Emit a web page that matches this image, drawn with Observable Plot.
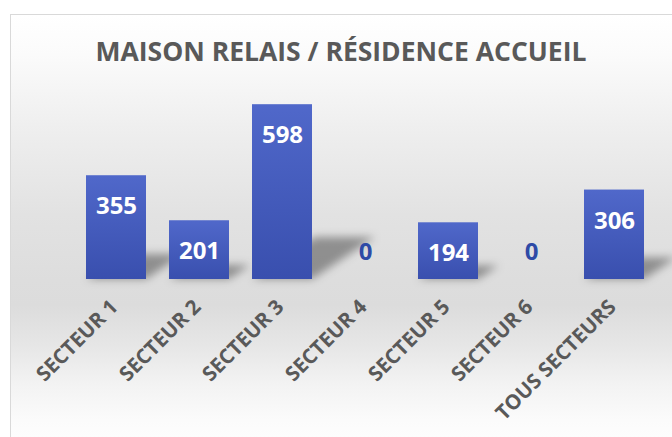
<!DOCTYPE html>
<html>
<head>
<meta charset="utf-8">
<script src="https://cdn.jsdelivr.net/npm/d3@7"></script>
<script src="https://cdn.jsdelivr.net/npm/@observablehq/plot@0.6"></script>
<style>
  html, body { margin: 0; padding: 0; background: #ffffff; }
  #wrap { position: relative; width: 672px; height: 437px; overflow: hidden; }
  #panel {
    position: absolute; left: 10px; top: 14px; width: 700px; height: 460px;
    border: 1px solid #d9d9d9; box-sizing: border-box;
    background: linear-gradient(to bottom, #ffffff 0px, #fbfbfb 40px, #efefef 110px, #e2e2e2 200px, #dddddd 265px, #dcdcdc 290px, #e6e6e6 330px, #f3f3f3 370px, #fbfbfb 405px, #ffffff 440px);
  }
  #title {
    position: absolute; left: 0; top: 38px; width: 682px; text-align: center;
    font-family: "Open Sans", sans-serif; font-weight: 700; font-size: 26.5px;
    color: #595959; line-height: 1; white-space: nowrap;
  }
  #chart { position: absolute; left: 0; top: 0; }
</style>
</head>
<body>
<div id="wrap">
  <div id="panel"></div>
  <div id="title">MAISON RELAIS / RÉSIDENCE ACCUEIL</div>
  <div id="chart"></div>
</div>
<script>
const categories = ["SECTEUR 1", "SECTEUR 2", "SECTEUR 3", "SECTEUR 4", "SECTEUR 5", "SECTEUR 6", "TOUS SECTEURS"];
const values = [355, 201, 598, 0, 194, 0, 306];

const data = categories.map((c, i) => ({category: c, value: values[i]}));
const nonZero = data.filter(d => d.value > 0);
const zeros = data.filter(d => d.value === 0);

function shadowRender(index, scales, vals, dimensions, context, next) {
  const el = next(index, scales, vals, dimensions, context);
  const sel = d3.select(el);
  sel.selectAll("rect").each(function() {
    const x = +this.getAttribute("x"), y = +this.getAttribute("y");
    const w = +this.getAttribute("width"), h = +this.getAttribute("height");
    const b = y + h, dx = 0.36 * h, dy = 0.24 * h;
    const pts = [[x, b], [x + w, b], [x + w + dx, b - dy], [x + dx, b - dy]];
    d3.select(this.parentNode).append("polygon")
      .attr("points", pts.map(p => p.join(",")).join(" "))
      .attr("fill", "#000").attr("fill-opacity", 0.36);
    d3.select(this).remove();
  });
  sel.attr("filter", "url(#shadowBlur)");
  return el;
}

const chart = Plot.plot({
  width: 672,
  height: 437,
  marginTop: 89,
  marginBottom: 158,
  marginLeft: 61,
  marginRight: 4,
  style: {background: "transparent", fontFamily: "Open Sans, sans-serif", overflow: "visible"},
  x: {domain: categories, padding: 0.28},
  y: {domain: [0, 650], axis: null},
  marks: [
    Plot.barY(nonZero, {x: "category", y: "value", fill: "#000", render: shadowRender}),
    Plot.barY(data, {x: "category", y: "value", fill: "url(#barGrad)"}),
    Plot.text(nonZero, {x: "category", y: "value", text: d => String(d.value), dy: 31,
      fill: "#ffffff", fontSize: 24, fontWeight: "bold"}),
    Plot.text(zeros, {x: "category", y: "value", text: d => String(d.value), dy: -27,
      fill: "#2E4AA6", fontSize: 24, fontWeight: "bold"}),
    Plot.axisX({tickRotate: -45, tickSize: 0, tickPadding: 24, fontSize: 20.5, fontWeight: "bold",
      color: "#595959", label: null, dx: -2})
  ]
});

const svg = d3.select(chart);
const defs = svg.insert("defs", ":first-child");
const grad = defs.append("linearGradient").attr("id", "barGrad")
  .attr("x1", 0).attr("y1", 0).attr("x2", 0).attr("y2", 1);
grad.append("stop").attr("offset", "0%").attr("stop-color", "#5068CA");
grad.append("stop").attr("offset", "100%").attr("stop-color", "#394FAE");
const filt = defs.append("filter").attr("id", "shadowBlur")
  .attr("x", "-50%").attr("y", "-50%").attr("width", "200%").attr("height", "200%");
filt.append("feGaussianBlur").attr("stdDeviation", 4);

document.getElementById("chart").appendChild(chart);
</script>
</body>
</html>
